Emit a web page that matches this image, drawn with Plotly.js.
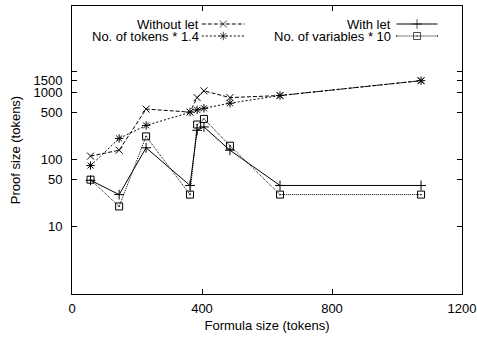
<!DOCTYPE html>
<html><head><meta charset="utf-8">
<script src="https://cdn.plot.ly/plotly-3.0.1.min.js"></script>
<style>html,body{margin:0;padding:0;background:#fff}#chart{width:477px;height:339px}</style>
</head><body><div id="chart"></div>
<script>
// Formula size (tokens) for each benchmark
const formulaSize = [57, 145, 228, 363, 385, 406, 486, 640, 1074];
// Proof sizes (tokens)
const withoutLet   = [112, 137, 560, 505, 830, 1045, 830, 890, 1480];
const tokensX14    = [81, 205, 320, 505, 545, 575, 685, 890, 1480];
const withLet      = [49, 30, 149, 41, 271, 304, 137, 41, 41];
const variablesX10 = [50, 20, 220, 30, 330, 400, 160, 30, 30];

const seriesNames = ["Without let", "No. of tokens * 1.4", "With let", "No. of variables * 10"];
const xTicks = [0, 400, 800, 1200];
const yTicks = [10, 50, 100, 500, 1000, 1500, 2000];
const yTickText = ["10", "50", "100", "500", "1000", "1500", ""];

const styles = [
  {dash: "4px,2px", symbol: "x-thin-open", size: 7},
  {dash: "2px,2px", symbol: "asterisk-open", size: 7},
  {dash: "solid", symbol: "cross-thin-open", size: 7},
  {dash: "1px,1px", symbol: "square-open-dot", size: 7}
];
const seriesData = [withoutLet, tokensX14, withLet, variablesX10];

const traces = seriesData.map((ys, i) => ({
  x: formulaSize, y: ys, type: "scatter", mode: "lines+markers",
  name: seriesNames[i], showlegend: false,
  line: {color: "#000", width: 1, dash: styles[i].dash},
  marker: {symbol: styles[i].symbol, size: styles[i].size, color: "#000", line: {color: "#000", width: 1}},
  cliponaxis: false
}));

// Gnuplot-style key: text right-aligned, sample on the right (pixel-space helper axes)
const keyPos = [
  {tx: 200, y: 24, x0: 202, x1: 245},
  {tx: 200, y: 36, x0: 202, x1: 245},
  {tx: 392, y: 24, x0: 397, x1: 438},
  {tx: 392, y: 36, x0: 397, x1: 438}
];
const annotations = [];
keyPos.forEach((k, i) => {
  traces.push({
    x: [k.x0, (k.x0 + k.x1) / 2, k.x1], y: [k.y, k.y, k.y],
    xaxis: "x2", yaxis: "y2", type: "scatter", mode: "lines+markers", showlegend: false,
    hoverinfo: "skip",
    line: {color: "#000", width: 1, dash: styles[i].dash},
    marker: {symbol: styles[i].symbol, size: [0, styles[i].size, 0], color: "#000", line: {color: "#000", width: 1}}
  });
  annotations.push({
    xref: "x2", yref: "y2", x: k.tx, y: k.y, text: seriesNames[i], showarrow: false,
    xanchor: "right", yanchor: "middle", height: 11, borderpad: 0,
    font: {size: 13, color: "#000"}
  });
});

const layout = {
  width: 477, height: 339,
  margin: {l: 72, r: 14.5, t: 6, b: 45},
  paper_bgcolor: "#fff", plot_bgcolor: "#fff",
  font: {family: "Liberation Sans, Arial, sans-serif", size: 13, color: "#000"},
  showlegend: false,
  xaxis: {
    range: [0, 1200], tickvals: xTicks, ticktext: xTicks.map(String),
    ticks: "inside", ticklen: 5, tickcolor: "#000", showline: true, linecolor: "#000", linewidth: 1,
    mirror: "allticks", showgrid: false, zeroline: false, ticklabelstandoff: 2,
    title: {text: "Formula size (tokens)", font: {size: 13}, standoff: 6}
  },
  yaxis: {
    type: "log", range: [0, 4.28], tickvals: yTicks, ticktext: yTickText,
    ticks: "inside", ticklen: 5, tickcolor: "#000", showline: true, linecolor: "#000", linewidth: 1,
    mirror: "allticks", showgrid: false, zeroline: false, ticklabelstandoff: 6,
    title: {text: "Proof size (tokens)", font: {size: 13}, standoff: 9}
  },
  xaxis2: {overlaying: "x", range: [72, 462.5], visible: false, fixedrange: true},
  yaxis2: {overlaying: "y", range: [294, 6], visible: false, fixedrange: true},
  annotations: annotations
};

Plotly.newPlot("chart", traces, layout, {displayModeBar: false, staticPlot: true});
</script></body></html>
